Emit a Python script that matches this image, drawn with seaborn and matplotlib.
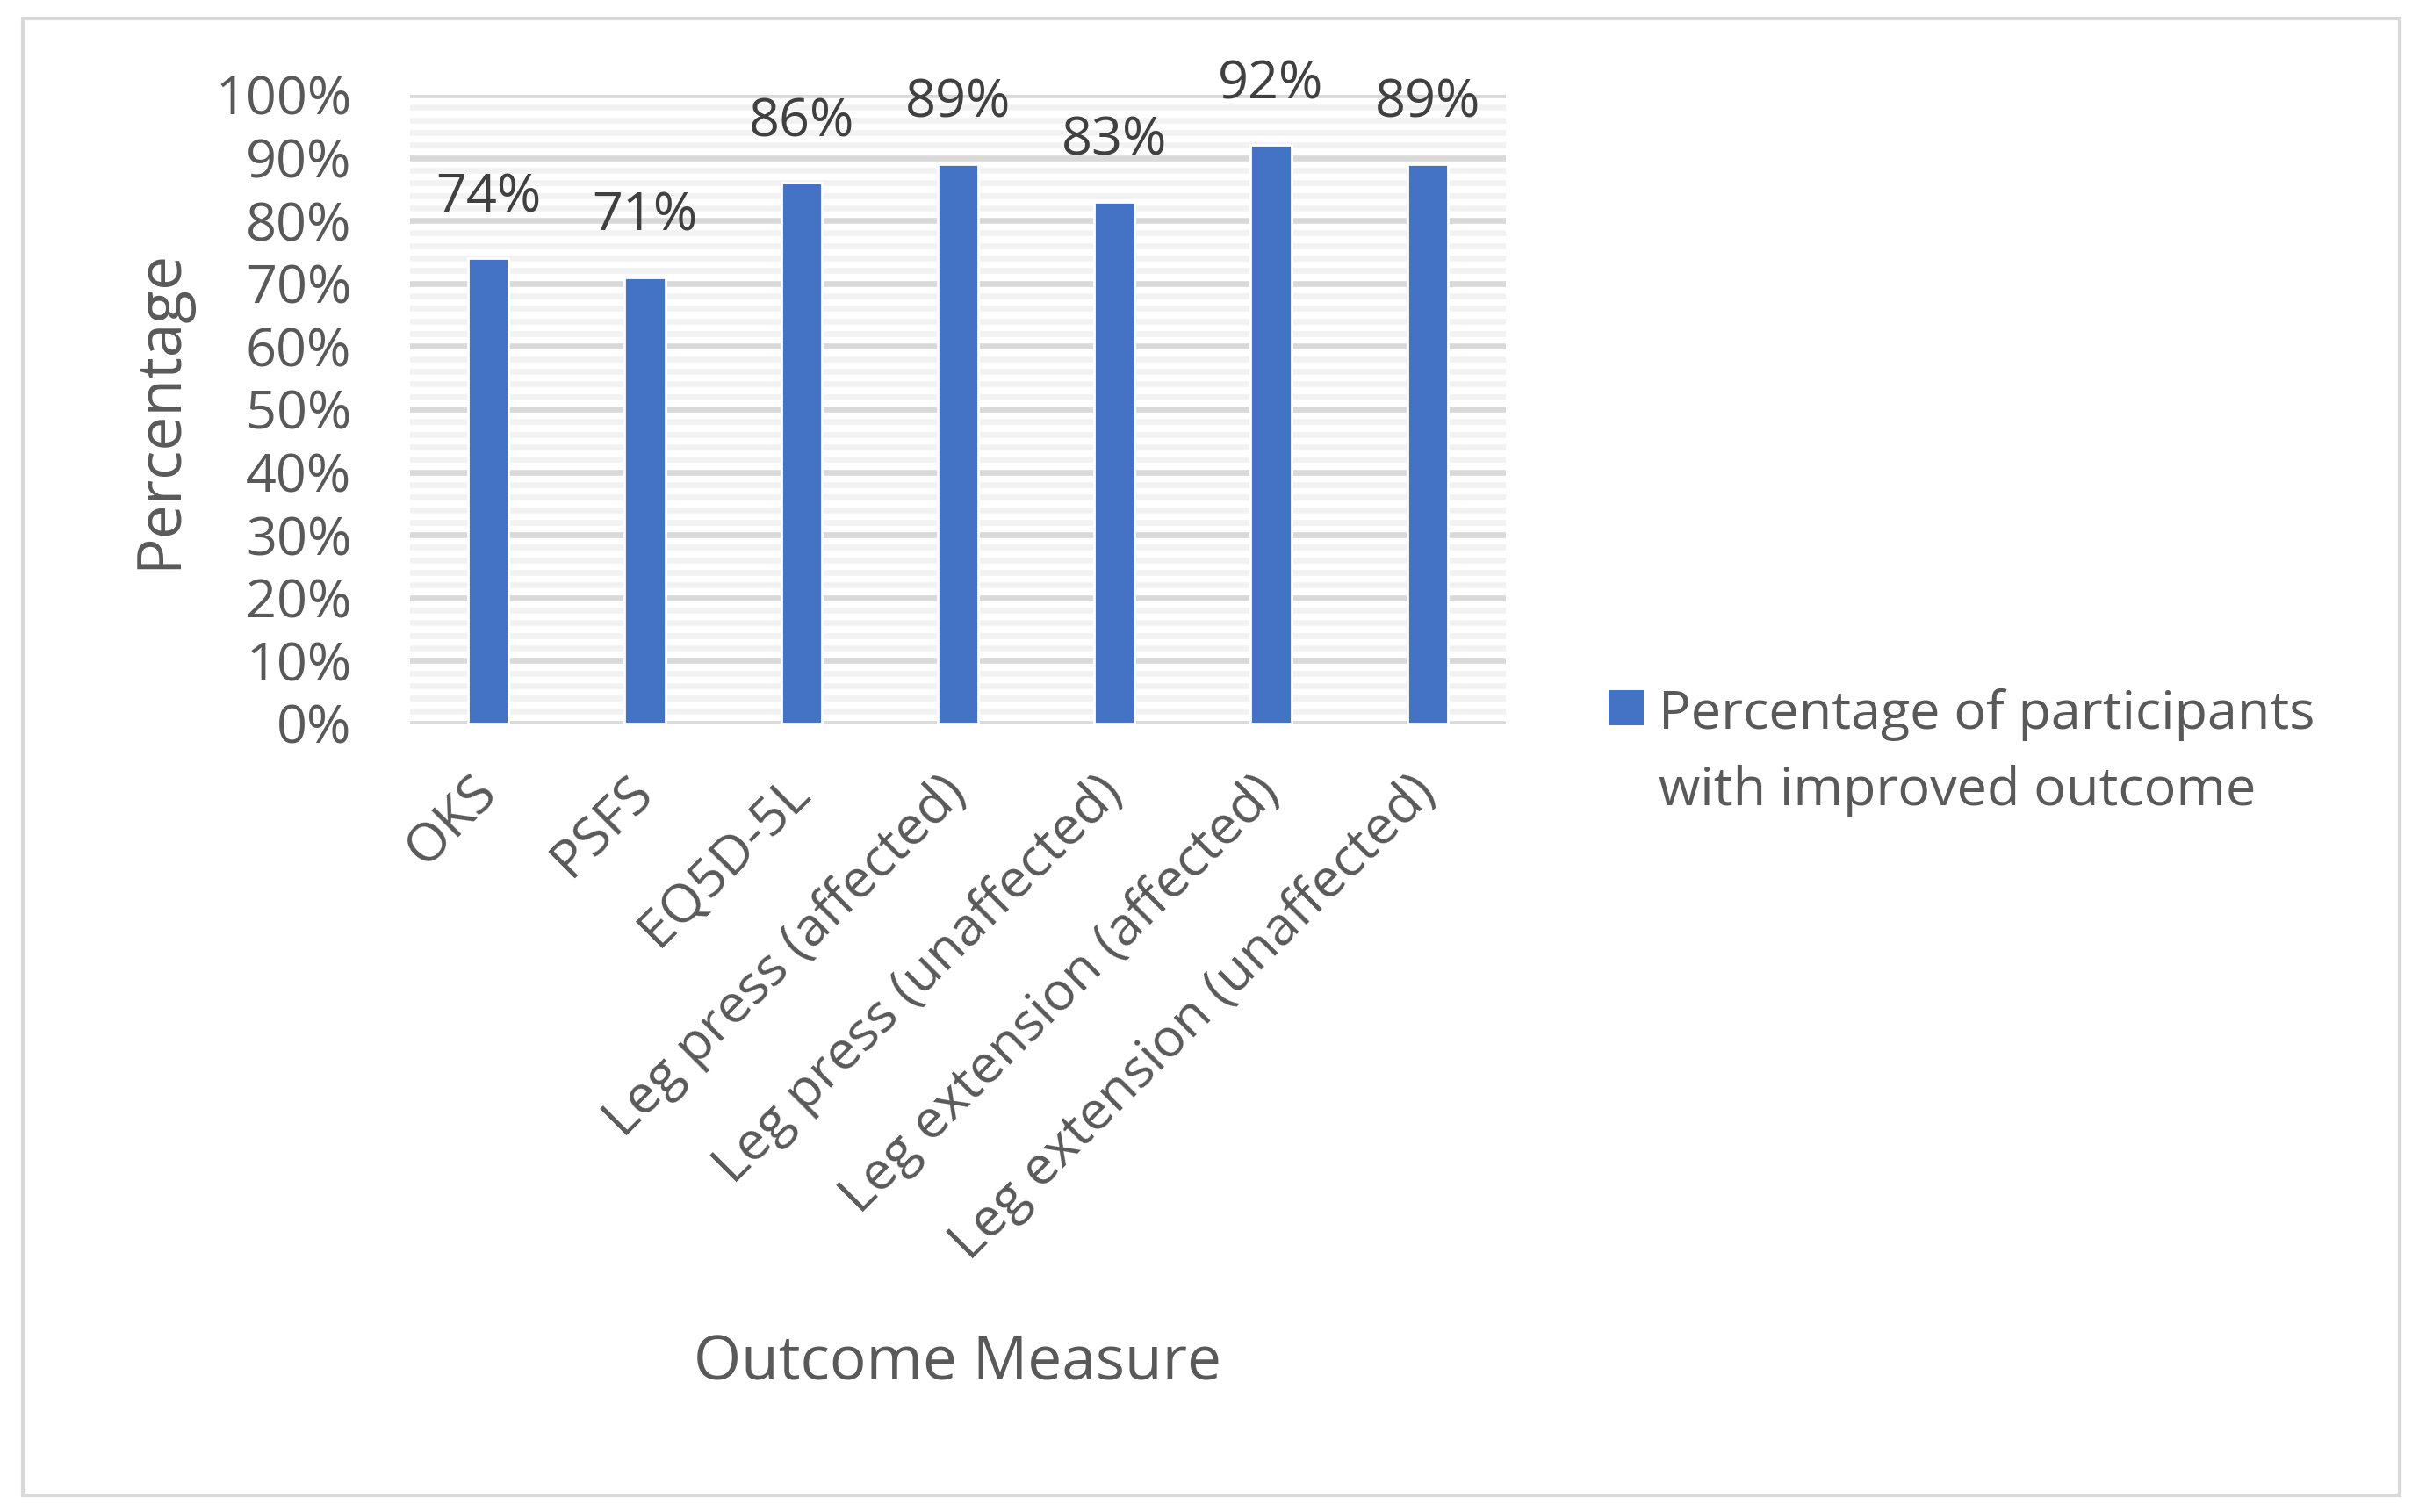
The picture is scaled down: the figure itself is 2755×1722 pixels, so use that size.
import matplotlib
matplotlib.use("Agg")
import matplotlib.pyplot as plt
import seaborn as sns
from matplotlib.patches import Patch, Rectangle
from matplotlib.legend_handler import HandlerPatch
from matplotlib.ticker import MultipleLocator, FuncFormatter

# data
measures = ["OKS", "PSFS", "EQ5D-5L", "Leg press (affected)", "Leg press (unaffected)",
            "Leg extension (affected)", "Leg extension (unaffected)"]
improved_pct = [74, 71, 86, 89, 83, 92, 89]
series_name = "Percentage of participants\nwith improved outcome"

sns.set_style("white")
plt.rcParams['font.family'] = ['Open Sans', 'DejaVu Sans']

bar_color = "#4472C4"
fs = 22
square_lift = 19.8  # points, puts the legend square beside the first line

fig = plt.figure(figsize=(13.775, 8.61), dpi=200)
ax = fig.add_axes([0.1695, 0.5215, 0.453, 0.4158])

sns.barplot(x=measures, y=improved_pct, color=bar_color, width=0.26, saturation=1, ax=ax, zorder=3)

# y axis: 0-100% with major lines every 10 and lighter lines every 2
ax.set_ylim(0, 100)
ax.yaxis.set_major_locator(MultipleLocator(10))
ax.yaxis.set_minor_locator(MultipleLocator(2))
ax.yaxis.set_major_formatter(FuncFormatter(lambda v, p: f"{int(v)}%"))
ax.grid(which='minor', axis='y', color='#F2F2F2', linewidth=2.4, zorder=0)
ax.grid(which='major', axis='y', color='#D9D9D9', linewidth=2.4, zorder=1)
ax.set_axisbelow(True)
for s in ax.spines.values():
    s.set_visible(False)
ax.tick_params(axis='both', which='both', length=0)
ax.tick_params(axis='y', labelsize=fs, labelcolor='#595959', pad=24)
ax.tick_params(axis='x', labelsize=fs, labelcolor='#595959', pad=25)
plt.setp(ax.get_xticklabels(), rotation=45, ha='right', va='center', rotation_mode='anchor')

# value labels
ax.bar_label(ax.containers[0], labels=[f"{v}%" for v in improved_pct],
             padding=14, fontsize=fs, color='#404040')

ax.set_ylabel("Percentage", fontsize=25, color='#595959')
ax.set_xlabel("Outcome Measure", fontsize=25, color='#595959')
ax.yaxis.set_label_coords(-0.2, 0.5)
ax.xaxis.set_label_coords(0.5, -0.97)


# square marker sits next to the first line of the two-line label
def square_top_line(legend, orig_handle, xdescent, ydescent, width, height, fontsize):
    return Rectangle((-xdescent, square_lift), width, width)


leg = fig.legend(handles=[Patch(facecolor=bar_color, edgecolor='none', label=series_name)],
                 handler_map={Patch: HandlerPatch(patch_func=square_top_line)},
                 loc='center left', bbox_to_anchor=(0.645, 0.502), frameon=False,
                 fontsize=fs, labelcolor='#595959', handlelength=0.655, handleheight=0.655,
                 handletextpad=0.28)
for t in leg.get_texts():
    t.set_linespacing(1.6)

# thin grey frame around the whole chart
fig.patches.append(Rectangle((0.0096, 0.011), 0.9824, 0.9767, transform=fig.transFigure,
                             fill=False, edgecolor='#D9D9D9', linewidth=1.5))

fig.savefig("out.png", dpi=200, facecolor='white')
